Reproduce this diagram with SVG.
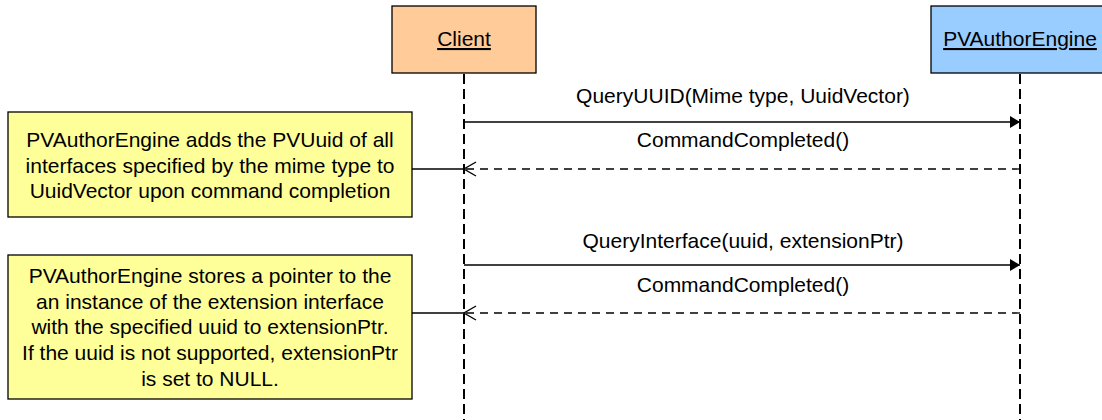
<svg xmlns="http://www.w3.org/2000/svg" width="1102" height="420" viewBox="0 0 1102 420">
<defs>
<style>
text{font-family:"Liberation Sans",Arial,sans-serif;font-size:21px;fill:#000}
.c{text-anchor:middle}
.actor{stroke:#000;stroke-width:1.3}
.life{stroke:#000;stroke-width:2;stroke-dasharray:10 5;fill:none}
.msg{stroke:#000;stroke-width:1.3;fill:none}
.ret{stroke:#000;stroke-width:1.3;stroke-dasharray:8 6;fill:none}
.note{fill:#ffff99;stroke:#000;stroke-width:1.3}
</style>
<marker id="solid" markerWidth="12" markerHeight="14" refX="11" refY="7" orient="auto" markerUnits="userSpaceOnUse">
<path d="M1,1 L11,7 L1,13 Z" fill="#000"/>
</marker>
<marker id="open" markerWidth="14" markerHeight="16" refX="13" refY="8" orient="auto" markerUnits="userSpaceOnUse">
<path d="M1,1 L13,8 L1,15" fill="none" stroke="#000" stroke-width="1.3"/>
</marker>
</defs>
<rect width="1102" height="420" fill="#fff"/>
<g id="client">
<rect class="actor" x="392" y="6" width="144" height="67" fill="#ffcc99"/>
<text class="c" x="464" y="46" text-decoration="underline">Client</text>
</g>
<g id="engine">
<rect class="actor" x="931" y="6" width="180" height="67" fill="#99ccff"/>
<text class="c" x="1020" y="46" text-decoration="underline">PVAuthorEngine</text>
</g>
<g id="lifelines">
<line class="life" x1="464" y1="74" x2="464" y2="420"/>
<line class="life" x1="1020" y1="74" x2="1020" y2="420"/>
</g>
<g id="note1">
<rect class="note" x="8" y="112" width="404" height="105"/>
<text class="c" x="210" y="147">PVAuthorEngine adds the PVUuid of all</text>
<text class="c" x="210" y="172.5">interfaces specified by the mime type to</text>
<text class="c" x="210" y="198">UuidVector upon command completion</text>
</g>
<g id="note2">
<rect class="note" x="8" y="255" width="404" height="144"/>
<text class="c" x="210" y="283">PVAuthorEngine stores a pointer to the</text>
<text class="c" x="210" y="308.7">an instance of the extension interface</text>
<text class="c" x="210" y="334.4">with the specified uuid to extensionPtr.</text>
<text class="c" x="210" y="360.1">If the uuid is not supported, extensionPtr</text>
<text class="c" x="210" y="385.8">is set to NULL.</text>
</g>
<g id="connectors">
<line class="msg" x1="464" y1="122" x2="1020" y2="122" marker-end="url(#solid)"/>
<line class="ret" x1="1020" y1="169" x2="464" y2="169" marker-end="url(#open)"/>
<line class="msg" x1="464" y1="265" x2="1020" y2="265" marker-end="url(#solid)"/>
<line class="ret" x1="1020" y1="313" x2="464" y2="313" marker-end="url(#open)"/>
<line class="msg" x1="412" y1="169" x2="464" y2="169"/>
<line class="msg" x1="412" y1="313" x2="464" y2="313"/>
<text class="c" x="743" y="103">QueryUUID(Mime type, UuidVector)</text>
<text class="c" x="743" y="147">CommandCompleted()</text>
<text class="c" x="743" y="248">QueryInterface(uuid, extensionPtr)</text>
<text class="c" x="743" y="292">CommandCompleted()</text>
</g>
</svg>
